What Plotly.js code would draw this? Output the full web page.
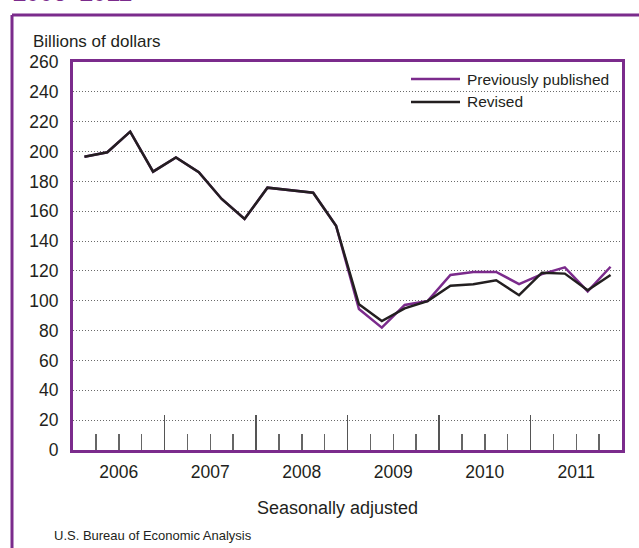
<!DOCTYPE html>
<html>
<head>
<meta charset="utf-8">
<script src="https://cdn.plot.ly/plotly-3.0.1.min.js"></script>
<style>html,body{margin:0;padding:0;background:#fff;}#chart{width:639px;height:548px;}</style>
</head>
<body>
<div id="chart"></div>
<script>
// Quarterly positions 2006Q1 .. 2011Q4 (index centers)
const quarters = [0.5,1.5,2.5,3.5,4.5,5.5,6.5,7.5,8.5,9.5,10.5,11.5,12.5,13.5,14.5,15.5,16.5,17.5,18.5,19.5,20.5,21.5,22.5,23.5];
const yearLabels = ["2006","2007","2008","2009","2010","2011"];
const yearCenters = [2,6,10,14,18,22];
const yearBounds = [4,8,12,16,20,24];
const previouslyPublished = [196.5,199.5,213.3,186.5,196.1,186.1,168.2,154.8,175.8,174.2,172.4,150.3,94.5,82.0,97.2,99.8,117.3,119.3,119.3,111.2,117.9,122.4,106.3,122.8];
const revised = [196.5,199.5,213.3,186.5,196.1,186.1,168.2,154.8,175.8,174.2,172.4,150.3,97.6,86.4,94.9,99.8,110.1,111.0,113.7,103.7,118.8,118.2,107.0,117.3];
const yTicks = [0,20,40,60,80,100,120,140,160,180,200,220,240,260];
const seriesNames = ["Previously published", "Revised"];

const PURPLE = '#7b2b8c';
const INK = '#231f20';
const FONT = 'Liberation Sans, Arial, Helvetica, sans-serif';

const traces = [
  {x: quarters, y: previouslyPublished, type:'scatter', mode:'lines', name: seriesNames[0],
   line:{color:PURPLE, width:2.5}, xaxis:'x', yaxis:'y'},
  {x: quarters, y: revised, type:'scatter', mode:'lines', name: seriesNames[1],
   line:{color:INK, width:2.5}, xaxis:'x', yaxis:'y'},
  // carrier for the overlay axis holding the quarter / year tick marks
  {x:[0,24], y:[null,null], xaxis:'x2', yaxis:'y', showlegend:false, hoverinfo:'skip', mode:'lines'}
];

const L = 73, R = 622, T = 62, B = 450;
const W = R - L, H = B - T;
const px = v => (v - L) / W;
const py = v => (B - v) / H;

const layout = {
  width: 639, height: 548,
  margin: {l: L, r: 639 - R, t: T, b: 548 - B, pad: 0},
  paper_bgcolor: '#fff', plot_bgcolor: '#fff',
  font: {family: FONT, color: INK, size: 17},
  showlegend: false,
  xaxis: {range: [0, 24], tickvals: yearCenters, ticktext: yearLabels, ticks: '',
          showgrid: false, zeroline: false, showline: true, mirror: true,
          linecolor: PURPLE, linewidth: 3, tickfont: {size: 17.5}, ticklabelstandoff: 4},
  xaxis2: {range: [0, 24], overlaying: 'x', side: 'bottom', tickvals: yearBounds,
           ticks: 'inside', ticklen: 35, tickwidth: 1.5, tickcolor: '#555',
           showticklabels: false, showgrid: false, zeroline: false, showline: false,
           minor: {dtick: 1, tick0: 0, ticks: 'inside', ticklen: 16, tickwidth: 1.5, tickcolor: '#666'}},
  yaxis: {range: [0, 260], tickvals: yTicks, ticks: '', showgrid: true, gridcolor: '#6a6a6a',
          griddash: '1px,2px', gridwidth: 1, zeroline: false, showline: true, mirror: true,
          linecolor: PURPLE, linewidth: 3, ticklabelstandoff: 8, tickfont: {size: 17.5}},
  shapes: [
    {type:'line', xref:'paper', yref:'paper', x0: px(12), x1: px(12), y0: py(15), y1: py(560),
     line:{color: PURPLE, width: 3}},
    {type:'line', xref:'paper', yref:'paper', x0: px(12), x1: px(660), y0: py(15), y1: py(15),
     line:{color: PURPLE, width: 3}},
    // legend samples
    {type:'line', xref:'paper', yref:'paper', x0: px(411), x1: px(460), y0: py(79), y1: py(79),
     line:{color: PURPLE, width: 2.5}},
    {type:'line', xref:'paper', yref:'paper', x0: px(411), x1: px(460), y0: py(102), y1: py(102),
     line:{color: INK, width: 2.5}}
  ],
  annotations: [
    {text: '<b>2006–2011</b>', xref:'paper', yref:'paper', x: px(11), y: py(-7), xanchor:'left', yanchor:'middle',
     showarrow:false, font:{size: 24, color: PURPLE, family: FONT}},
    {text: 'Billions of dollars', xref:'paper', yref:'paper', x: px(31), y: py(42), xanchor:'left', yanchor:'middle',
     showarrow:false, font:{size: 17}},
    {text: seriesNames[0], xref:'paper', yref:'paper', x: px(465), y: py(80), xanchor:'left', yanchor:'middle',
     showarrow:false, font:{size: 15.5}},
    {text: seriesNames[1], xref:'paper', yref:'paper', x: px(465), y: py(102), xanchor:'left', yanchor:'middle',
     showarrow:false, font:{size: 15.5}},
    {text: 'Seasonally adjusted', xref:'paper', yref:'paper', x: px(337), y: py(508), xanchor:'center', yanchor:'middle',
     showarrow:false, font:{size: 18}},
    {text: 'U.S. Bureau of Economic Analysis', xref:'paper', yref:'paper', x: px(52), y: py(535), xanchor:'left', yanchor:'middle',
     showarrow:false, font:{size: 13}}
  ]
};

Plotly.newPlot('chart', traces, layout, {displayModeBar: false, staticPlot: true});
</script>
</body>
</html>
